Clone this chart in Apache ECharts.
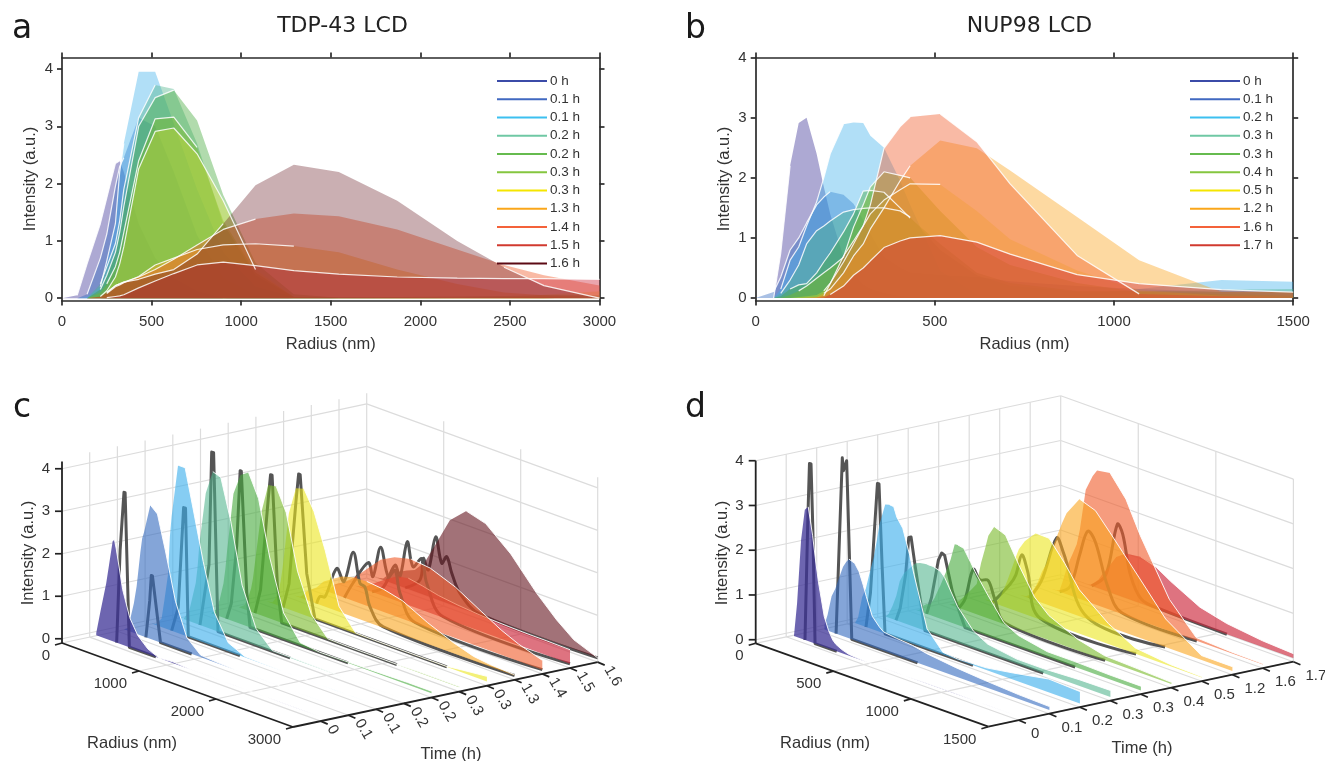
<!DOCTYPE html>
<html><head><meta charset="utf-8">
<style>html,body{margin:0;padding:0;background:#fff}#main{width:1325px;height:761px}</style>
<script src="https://cdn.jsdelivr.net/npm/echarts@6/dist/echarts.min.js"></script>
</head><body><div id="main"></div>
<script>
// ---- Data: panel a / c (TDP-43 LCD) ----
const aRadius=[85,140,214,250,298,322,345,428,520,624,754,900,1080,1294,1545,1871,2206,2467,2690,3000];
const aLabels=['0 h','0.1 h','0.1 h','0.2 h','0.2 h','0.3 h','0.3 h','1.3 h','1.4 h','1.5 h','1.6 h'];
const aTimeTicks=['0','0.1','0.1','0.2','0.2','0.3','0.3','1.3','1.4','1.5','1.6'];
const a0 =[.05,.6,1.3,1.75,2.35,2.4,2.2,1.3,.7,.35,.12,0,.03,0,0,0,0,0,0,0];
const a1 =[0,.07,.7,1.12,1.95,2.3,2.45,3.15,3.0,2.2,1.1,.35,.05,.02,0,0,0,0,0,0];
const a2 =[0,.02,.2,.65,1.3,2.2,2.7,3.95,3.95,3.05,1.9,.8,.2,.02,.01,0,0,0,0,0];
const a3 =[0,0,.25,.55,.95,1.35,1.9,3.15,3.72,3.65,2.7,1.3,.4,.02,.02,.01,0,0,0,0];
const a4 =[0,0,.15,.4,.8,1.15,1.6,3.0,3.5,3.63,3.1,1.8,.62,.07,.01,.02,.03,.04,.05,.05];
const a5 =[0,0,.1,.25,.55,.8,1.15,2.4,3.13,3.16,2.63,1.35,.45,.02,.01,.01,.01,.02,.02,.02];
const a6 =[0,0,.03,.13,.37,.6,.9,2.26,2.91,2.97,2.52,1.7,.5,.02,.01,.01,.01,.01,.06,.12];
const a7 =[0,0,.02,.08,.2,.23,.27,.38,.58,.7,.85,.93,.95,.91,.8,.5,.25,.1,.05,.02];
const a8 =[0,0,.02,.1,.22,.25,.28,.37,.5,.68,.93,1.2,1.38,1.48,1.43,1.2,.85,.58,.4,.22];
const a9 =[0,0,0,.01,.03,.04,.06,.18,.3,.43,.58,.63,.57,.48,.42,.37,.35,.34,.34,.33];
const a10=[0,0,.03,.1,.22,.25,.28,.33,.42,.5,.77,1.3,1.97,2.33,2.2,1.7,1.0,.54,.22,0];
// radius spans over which the pale outline of each curve shows in panel a
const aEdges=[[[85,322]],[[140,345]],[[214,345]],[[214,520]],[[214,624]],[[250,754]],[[214,1080]],[[250,1294]],[[250,1080]],[[250,3000]],[[250,900],[2467,3000]]];
// ---- Data: panel b / d (NUP98 LCD) ----
const bRadius=[50,70,96,120,142,170,190,208,245,273,300,320,358,403,431,515,617,710,897,1070,1300,1500];
const bLabels=['0 h','0.1 h','0.2 h','0.3 h','0.3 h','0.4 h','0.5 h','1.2 h','1.6 h','1.7 h'];
const bTimeTicks=['0','0.1','0.2','0.3','0.3','0.4','0.5','1.2','1.6','1.7'];
const b0=[0,.75,2.2,2.91,3.0,2.4,1.85,1.4,.68,.4,.22,.15,.08,.03,.02,0,0,0,.01,.01,0,0];
const b1=[.1,.35,.8,1.0,1.25,1.55,1.68,1.77,1.72,1.57,1.3,1.07,.68,.5,.42,.38,.35,.28,.2,.15,.1,.08];
const b2=[0,.15,.63,.85,1.2,1.6,2.0,2.4,2.89,2.92,2.91,2.7,2.5,1.95,1.55,.45,.05,.02,.05,.15,.3,.27];
const b3=[0,.08,.3,.55,.9,1.12,1.2,1.28,1.43,1.47,1.49,1.5,1.5,1.45,1.35,.8,.38,.2,.1,.1,.14,.15];
const b4=[0,.03,.15,.22,.24,.42,.6,.75,1.1,1.4,1.78,1.79,1.76,1.5,1.33,.9,.42,.25,.12,.12,.1,.1];
const b5=[0,0,.05,.12,.2,.33,.42,.5,.68,1.18,1.55,1.85,2.1,2.04,2.0,1.45,.85,.55,.25,.1,.07,.04];
const b6=[0,0,0,.02,.03,.05,.12,.25,.6,.9,1.2,1.4,1.63,1.8,1.9,1.89,1.45,.98,.46,.13,.04,.02];
const b7=[0,0,0,0,.01,.02,.08,.15,.42,.7,.9,1.15,1.5,1.95,2.2,2.62,2.49,2.12,1.35,.63,.1,.1];
const b8=[0,0,0,0,0,.01,.04,.24,.7,.95,1.2,1.55,2.49,2.85,3.01,3.06,2.6,1.9,.71,.07,.03,.02];
const b9=[0,0,0,0,0,0,.01,.06,.2,.38,.5,.62,.84,.95,1.0,1.04,.93,.73,.39,.24,.14,.1];
const bEdges=[[[50,96]],[[50,208]],[[70,245]],[[70,431]],[[96,431]],[[120,431]],[[190,515]],[[190,431]],[[190,431],[515,1070]],[[208,1500]]];
// ---- Grey fit curves drawn in c, as [radius, intensity] ----
const cFit0=[[350,0],[395,2.2],[445,3.6],[460,3.6],[515,0],[860,0]];
const cFit1=[[370,0],[420,.9],[440,1.5],[455,1.5],[560,0],[965,0]];
const cFit2=[[345,0],[430,.6],[500,3.0],[525,3.0],[561,0],[1232,0]];
const cFit3=[[353,0],[470,1.5],[505,4.17],[530,4.17],[587,0],[1523,0]];
const cFit4=[[340,0],[400,.4],[470,1.8],[515,3.6],[530,3.6],[600,.8],[643,0],[1916,0]];
const cFit5=[[348,0],[420,.6],[520,2.8],[550,3.39],[570,3.39],[640,.8],[695,0],[2190,0]];
const cFit6=[[354,0],[430,.6],[520,2.6],[555,3.27],[575,3.27],[660,1],[767,0],[2480,0]];
const cFit7=[[430,0],[473,.2],[538,.23],[690,1.0],[784,.75],[905,1.52],[992,.85],[1057,.8],[1122,.38],[1295,.02],[3000,0]];
const cFit8=[[430,0],[542,.42],[740,1.03],[801,.74],[901,1.5],[1000,.87],[1087,1.08],[1152,.58],[1347,.02],[3000,0]];
const cFit9=[[430,0],[575,.2],[727,.82],[792,.6],[887,1.48],[961,.94],[1074,1.2],[1139,.67],[1354,.02],[3000,0]];
const cFit10=[[500,0],[692,.31],[735,.85],[800,.62],[896,1.46],[974,.89],[1039,1.09],[1104,.75],[1212,.34],[1472,.02],[3000,0]];
// ---- Grey fit curves drawn in d ----
const dFit0=[[121,0],[140,2.8],[150,3.98],[160,3.98],[172,2.5],[186,0],[326,0]];
const dFit1=[[125,0],[150,2.5],[165,3.98],[172,3.7],[193,3.95],[208,2.2],[226,0],[650,0]];
const dFit2=[[121,0],[150,.8],[175,2.2],[195,3.3],[205,3.3],[225,1.5],[244,0],[811,0]];
const dFit3=[[118,0],[145,.3],[180,1.1],[200,1.95],[215,1.98],[240,1.4],[305,0],[1067,0]];
const dFit4=[[119,0],[150,.4],[195,1.3],[216,1.48],[235,1.45],[285,.7],[366,0],[1076,0]];
const dFit5=[[130,0],[170,.25],[223,.98],[265,.8],[318,.85],[360,.5],[430,.03],[1073,0]];
const dFit6=[[150,0],[263,.55],[300,.8],[339,1.3],[375,1.0],[457,.03],[1076,0]];
const dFit7=[[190,0],[270,.5],[367,1.57],[410,1.3],[568,.03],[1066,0]];
const dFit8=[[190,0],[257,.2],[320,1.0],[371,1.58],[420,1.4],[500,.5],[590,.03],[1074,0]];
const dFit9=[[200,0],[290,.35],[365,1.58],[400,1.4],[450,.55],[520,.1],[640,.03],[1071,0]];
// ---- Ticks ----
const intensityTicks=[0,1,2,3,4];
const cRadiusTicks=[0,1000,2000,3000];
const dRadiusTicks=[0,500,1000,1500];

const aSeries=[a0,a1,a2,a3,a4,a5,a6,a7,a8,a9,a10];
const bSeries=[b0,b1,b2,b3,b4,b5,b6,b7,b8,b9];
const cFits=[cFit0,cFit1,cFit2,cFit3,cFit4,cFit5,cFit6,cFit7,cFit8,cFit9,cFit10];
const dFits=[dFit0,dFit1,dFit2,dFit3,dFit4,dFit5,dFit6,dFit7,dFit8,dFit9];

const legendColors=['#3b4ba8','#4169c1','#3cc0f0','#6fc8a4','#66bb4f','#85c63f','#f5e600','#faa61a','#f4623a','#d13a2f','#5c0a14'];
const fillRGB=['60,50,150','50,105,190','60,175,235','80,180,140','70,170,60','120,185,40','235,230,30','250,165,30','240,90,40','205,40,60','100,20,30'];
const alpha2d=[.42,.42,.4,.42,.42,.45,.3,.42,.42,.42,.34];
const alpha3d=[.75,.6,.62,.58,.6,.6,.6,.6,.6,.65,.6];
const TXT='#333', FONT='Liberation Sans, Arial, sans-serif';

function axes2d(gridIndex,xMax,xInt,yMin,yMax){
  const line={show:true,onZero:false,lineStyle:{color:'#2b2b2b',width:1.7}};
  const tick={show:true,length:5,lineStyle:{color:'#2b2b2b',width:1.7}};
  const name={fontFamily:FONT,fontSize:16.5,color:TXT};
  const xs=[
   {type:'value',gridIndex,min:0,max:xMax,interval:xInt,position:'bottom',axisLine:line,axisTick:tick,splitLine:{show:false},
    axisLabel:{fontFamily:FONT,fontSize:15,color:TXT,margin:14,formatter:v=>String(v)},
    name:'Radius (nm)',nameLocation:'middle',nameGap:35,nameTextStyle:name},
   {type:'value',gridIndex,min:0,max:xMax,interval:xInt,position:'top',axisLine:line,axisTick:tick,splitLine:{show:false},axisLabel:{show:false}}];
  const ys=[
   {type:'value',gridIndex,min:yMin,max:yMax,position:'left',axisLine:line,axisTick:{...tick,customValues:intensityTicks},splitLine:{show:false},
    axisLabel:{fontFamily:FONT,fontSize:15,color:TXT,margin:9,customValues:intensityTicks,formatter:v=>String(v)},
    name:'Intensity (a.u.)',nameLocation:'middle',nameRotate:90,nameGap:23,nameTextStyle:name},
   {type:'value',gridIndex,min:yMin,max:yMax,position:'right',axisLine:line,axisTick:{...tick,customValues:intensityTicks},splitLine:{show:false},axisLabel:{show:false}}];
  return {xs,ys};
}
const A=axes2d(0,3000,500,-0.04,4.2), B=axes2d(1,1500,500,-0.04,4);
const xAxis=[...A.xs,...B.xs,{type:'value',gridIndex:2,min:0,max:1325,show:false}];
const yAxis=[...A.ys,...B.ys,{type:'value',gridIndex:2,min:0,max:761,inverse:true,show:false}];

function areaSeries(prefix,radius,list,labels,edges,xi,yi){
  const out=[];
  list.forEach((vals,i)=>{
    out.push({
      type:'line',name:prefix+'|'+labels[i]+'|'+i,xAxisIndex:xi,yAxisIndex:yi,
      data:[[0,0]].concat(radius.map((r,k)=>[r,vals[k]])),
      showSymbol:false,symbol:'none',silent:true,
      lineStyle:{width:0,opacity:0},
      itemStyle:{color:legendColors[i]},
      areaStyle:{color:'rgba('+fillRGB[i]+','+alpha2d[i]+')',opacity:1},
      emphasis:{disabled:true}
    });
    const pts=[];
    edges[i].forEach(([lo,hi],j)=>{
      if(j) pts.push([lo,'-']);
      radius.forEach((r,k)=>{ if(r>=lo&&r<=hi) pts.push([r,vals[k]]); });
    });
    out.push({type:'line',name:prefix+'-edge-'+i,xAxisIndex:xi,yAxisIndex:yi,data:pts,showSymbol:false,symbol:'none',silent:true,
      connectNulls:false,lineStyle:{color:'rgba(255,255,255,.85)',width:1.2},emphasis:{disabled:true}});
  });
  return out;
}
function legendFor(prefix,labels,left){
  return {show:true,orient:'vertical',left,top:74,padding:0,itemGap:4.25,itemWidth:50,itemHeight:2,itemStyle:{borderWidth:0},selectedMode:false,
    icon:'rect',textStyle:{fontFamily:FONT,fontSize:13.5,color:TXT,padding:[0,0,0,-2]},
    formatter:n=>n.split('|')[1],
    data:labels.map((l,i)=>({name:prefix+'|'+l+'|'+i,icon:'rect',itemStyle:{color:legendColors[i]}}))};
}

// ---- pseudo-3D projection used by panels c and d ----
const camC={x0:62,y0:643,rMax:3000,rDx:231,rDy:84,tDx:27.7,tDy:5.9,zU:42.5,zMin:-.1,zTop:4.25,tEnd:10};
const camD={x0:755.7,y0:643.3,rMax:1500,rDx:232.7,rDy:83.4,tDx:30.5,tDy:6.5,zU:44.75,zMin:-.08,zTop:4,tEnd:9};
const proj=(c,r,t,z)=>[c.x0+r/c.rMax*c.rDx+(t+1)*c.tDx, c.y0+r/c.rMax*c.rDy-(t+1)*c.tDy-(z-c.zMin)*c.zU];
const GRID='#dcdcdc';
function seg(api,c,p,q,stroke,w){
  const a=api.coord(proj(c,...p)),b=api.coord(proj(c,...q));
  return {type:'line',shape:{x1:a[0],y1:a[1],x2:b[0],y2:b[1]},style:{stroke,lineWidth:w,fill:null}};
}
function frameSeries(c,rTicks){
  return {type:'custom',coordinateSystem:'cartesian2d',xAxisIndex:4,yAxisIndex:4,silent:true,clip:false,data:[[0,0]],
   renderItem(p,api){
     const ch=[], tA=-1, tB=c.tEnd, R=c.rMax, Z0=c.zMin;
     intensityTicks.forEach(z=>{
       ch.push(seg(api,c,[0,tA,z],[0,tB,z],GRID,1.2));
       ch.push(seg(api,c,[0,tB,z],[R,tB,z],GRID,1.2));
     });
     for(let t=0;t<=tB;t++) ch.push(seg(api,c,[0,t,Z0],[0,t,c.zTop],GRID,1.2));
     rTicks.forEach(r=>{ if(r>0) ch.push(seg(api,c,[r,tB,Z0],[r,tB,c.zTop],GRID,1.2));
        ch.push(seg(api,c,[r,tA,Z0],[r,tB,Z0],GRID,1.2)); });
     for(let t=0;t<=tB;t++) ch.push(seg(api,c,[0,t,Z0],[R,t,Z0],GRID,1.2));
     return {type:'group',children:ch};
   }};
}
function planeSeries(c,t,radius,vals,fit,rgb,alpha,smooth){
  return {type:'custom',coordinateSystem:'cartesian2d',xAxisIndex:4,yAxisIndex:4,silent:true,clip:false,data:[[0,0]],
   renderItem(p,api){
     const pts=[api.coord(proj(c,radius[0],t,0))];
     radius.forEach((r,k)=>pts.push(api.coord(proj(c,r,t,vals[k]))));
     pts.push(api.coord(proj(c,radius[radius.length-1],t,0)));
     const g=fit.map(f=>api.coord(proj(c,f[0],t,f[1])));
     // white outline on the falling side of the curve only
     let peak=0; vals.forEach((v,k)=>{ if(v>vals[peak]) peak=k; });
     const edge=[];
     for(let k=peak;k<radius.length;k++) edge.push(api.coord(proj(c,radius[k],t,vals[k])));
     return {type:'group',children:[
       {type:'polyline',shape:{points:g,smooth:smooth?.35:0},style:{stroke:'#555',lineWidth:3,fill:null,lineJoin:'round'}},
       {type:'polygon',shape:{points:pts},style:{fill:'rgba('+rgb+','+alpha+')',stroke:null,lineWidth:0}},
       {type:'polyline',shape:{points:edge},style:{stroke:'rgba(255,255,255,.9)',lineWidth:1,fill:null}}
     ]};
   }};
}
function axesSeries(c,rTicks,timeTicks,opt){
  return {type:'custom',coordinateSystem:'cartesian2d',xAxisIndex:4,yAxisIndex:4,silent:true,clip:false,data:[[0,0]],
   renderItem(p,api){
     const ch=[], K='#222', R=c.rMax, tA=-1, tB=c.tEnd, Z0=c.zMin;
     const text=(s,xy,dx,dy,align,rot,size)=>{
       const q=api.coord(xy);
       return {type:'text',x:q[0]+dx,y:q[1]+dy,rotation:rot||0,
         style:{text:s,fontFamily:FONT,fontSize:size||15,fill:TXT,align,verticalAlign:'middle'}};
     };
     ch.push(seg(api,c,[0,tA,Z0],[0,tA,opt.zAxisTop],K,1.8));
     ch.push(seg(api,c,[0,tA,Z0],[R,tA,Z0],K,1.8));
     ch.push(seg(api,c,[R,tA,Z0],[R,tB,Z0],K,1.8));
     intensityTicks.forEach(z=>{
       const a=api.coord(proj(c,0,tA,z));
       ch.push({type:'line',shape:{x1:a[0]-7,y1:a[1],x2:a[0],y2:a[1]},style:{stroke:K,lineWidth:1.7}});
       ch.push(text(String(z),proj(c,0,tA,z),-12,0,'right'));
     });
     rTicks.forEach(r=>{
       const a=api.coord(proj(c,r,tA,Z0));
       ch.push({type:'line',shape:{x1:a[0]-7,y1:a[1]+2,x2:a[0],y2:a[1]},style:{stroke:K,lineWidth:1.7}});
       ch.push(text(String(r),proj(c,r,tA,Z0),-12,13,'right'));
     });
     timeTicks.forEach((l,t)=>{
       const a=api.coord(proj(c,R,t,Z0));
       ch.push({type:'line',shape:{x1:a[0],y1:a[1],x2:a[0]+7,y2:a[1]+3},style:{stroke:K,lineWidth:1.7}});
       ch.push(text(l,proj(c,R,t,Z0),opt.tdx,opt.tdy,'left',opt.trot));
     });
     ch.push(text('Radius (nm)',opt.rName,0,0,'center',0,16.5));
     ch.push(text('Time (h)',opt.tName,0,0,'center',0,16.5));
     ch.push(text('Intensity (a.u.)',opt.zName,0,0,'center',Math.PI/2,16.5));
     return {type:'group',children:ch};
   }};
}
const rev=n=>Array.from({length:n},(_,i)=>n-1-i);
const series=[
  ...areaSeries('a',aRadius,aSeries,aLabels,aEdges,0,0),
  ...areaSeries('b',bRadius,bSeries,bLabels,bEdges,2,2),
  frameSeries(camC,cRadiusTicks),
  ...rev(11).map(t=>planeSeries(camC,t,aRadius,aSeries[t],cFits[t],fillRGB[t],alpha3d[t],t>=7)),
  axesSeries(camC,cRadiusTicks,aTimeTicks,{zAxisTop:4.17,tdx:10,tdy:5,trot:-Math.PI/3,rName:[132,743],tName:[451,754],zName:[28,553]}),
  frameSeries(camD,dRadiusTicks),
  ...rev(10).map(t=>planeSeries(camD,t,bRadius,bSeries[t],dFits[t],fillRGB[t],alpha3d[t],t>=5)),
  axesSeries(camD,dRadiusTicks,bTimeTicks,{zAxisTop:4,tdx:12,tdy:14,trot:0,rName:[825,743],tName:[1142,748],zName:[722,553]})
];
const letter=(t,x,y)=>({type:'text',left:x,top:y,style:{text:t,fontFamily:'DejaVu Sans',fontSize:33,fill:'#1a1a1a'}});
const option={
  animation:false,backgroundColor:'#fff',
  title:[
   {text:'TDP-43 LCD',left:337.5,top:10,textAlign:'center',textStyle:{fontFamily:'DejaVu Sans',fontSize:22,fontWeight:'normal',color:'#222'}},
   {text:'NUP98 LCD',left:1024.5,top:10,textAlign:'center',textStyle:{fontFamily:'DejaVu Sans',fontSize:22,fontWeight:'normal',color:'#222'}}
  ],
  graphic:[letter('a',12,13),letter('b',685,13),letter('c',13,392),letter('d',685,392)],
  grid:[
   {left:62,top:57.5,width:537.5,height:243,containLabel:false},
   {left:755.7,top:57.5,width:537.5,height:243,containLabel:false},
   {left:0,top:0,width:1325,height:761,show:false}
  ],
  xAxis,yAxis,
  legend:[legendFor('a',aLabels,497),legendFor('b',bLabels,1190)],
  series
};
echarts.init(document.getElementById('main'),null,{renderer:'canvas'}).setOption(option);
</script></body></html>
